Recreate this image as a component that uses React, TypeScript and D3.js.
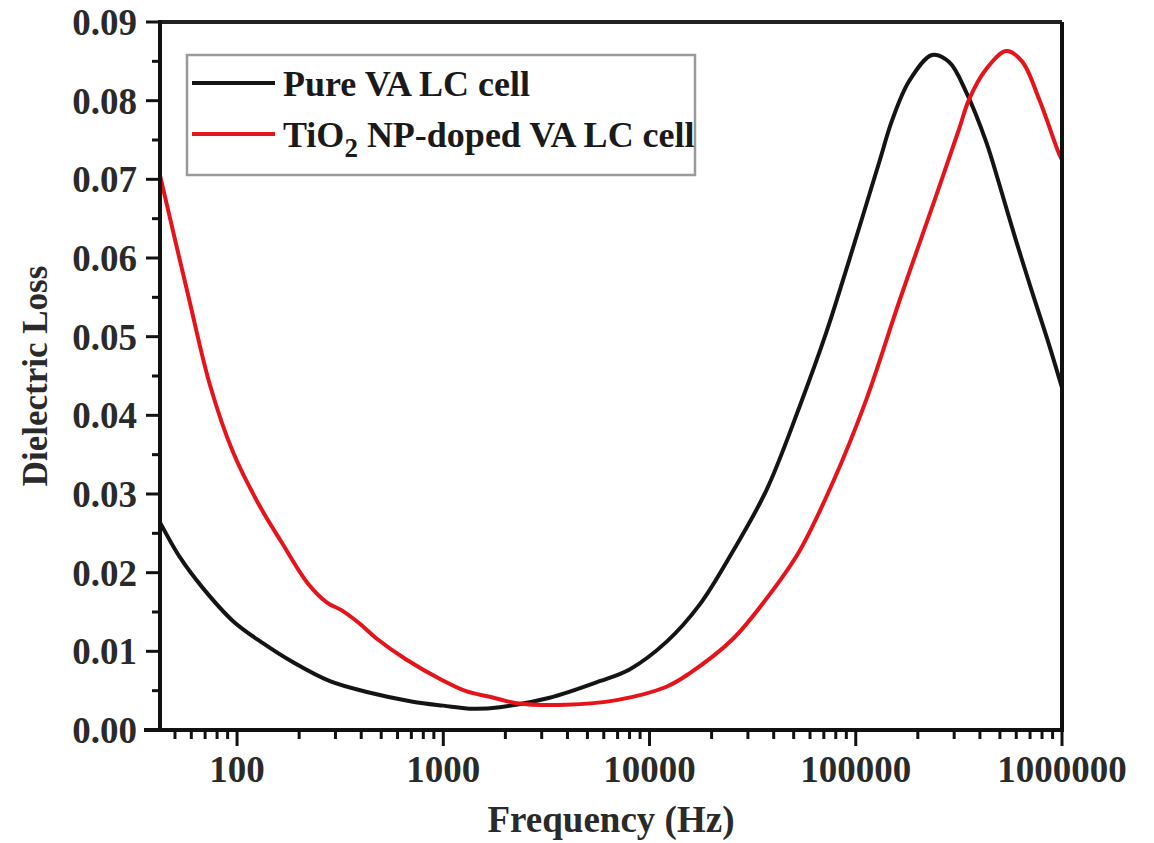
import React from "react";
import * as d3 from "d3";

// Pure VA LC cell
const pureFreq = [42.3, 53, 68, 96, 134, 187, 282, 431, 711, 1000, 1400, 1880, 3280, 5730, 8000, 12080, 17460, 25200, 36900, 53200, 71900, 93100, 130000, 150000, 181600, 234600, 283700, 343000, 428500, 495000, 598500, 716000, 865000, 1000000];
const pureLoss = [0.0264, 0.0219, 0.0181, 0.0138, 0.011, 0.0086, 0.0062, 0.0048, 0.0036, 0.0031, 0.0027, 0.0029, 0.0041, 0.0062, 0.0077, 0.0112, 0.0159, 0.0226, 0.0305, 0.041, 0.0505, 0.0598, 0.0722, 0.0775, 0.0825, 0.0858, 0.0849, 0.0811, 0.0748, 0.0695, 0.0622, 0.0557, 0.049, 0.0435];

// TiO2 NP-doped VA LC cell
const dopedFreq = [42.3, 58, 74, 96, 128, 165, 221, 273, 322, 394, 471, 658, 995, 1300, 1700, 2270, 3960, 6920, 12080, 15630, 25200, 36900, 53200, 76900, 112500, 162600, 240000, 317000, 354800, 428500, 535800, 640000, 774000, 966000, 1000000];
const dopedLoss = [0.0705, 0.0552, 0.0438, 0.0352, 0.0286, 0.0238, 0.0186, 0.0162, 0.0152, 0.0135, 0.0117, 0.009, 0.0063, 0.0049, 0.0042, 0.0034, 0.0032, 0.0038, 0.0055, 0.0072, 0.0115, 0.0167, 0.0227, 0.0313, 0.042, 0.0545, 0.0672, 0.0764, 0.0802, 0.084, 0.0863, 0.085, 0.0802, 0.0733, 0.0725];

const xTickValues = [100, 1000, 10000, 100000, 1000000];
const yTickValues = [0, 0.01, 0.02, 0.03, 0.04, 0.05, 0.06, 0.07, 0.08, 0.09];
const yMinorValues = [0.005, 0.015, 0.025, 0.035, 0.045, 0.055, 0.065, 0.075, 0.085];

const W = 1154;
const H = 843;
const L = 160, R = 1062, T = 22, B = 730;
const FONT = "'Liberation Serif', 'Times New Roman', serif";

export default function App() {
  const x = d3.scaleLog().domain([42.3, 1000000]).range([L, R]);
  const y = d3.scaleLinear().domain([0, 0.09]).range([B, T]);

  const line = d3
    .line<[number, number]>()
    .x((d) => x(d[0]))
    .y((d) => y(d[1]))
    .curve(d3.curveCatmullRom.alpha(0.5));

  const pure = pureFreq.map((f, i) => [f, pureLoss[i]] as [number, number]);
  const doped = dopedFreq.map((f, i) => [f, dopedLoss[i]] as [number, number]);

  const xMinor: number[] = [];
  for (let p = 10; p < 1000000; p *= 10) {
    for (let k = 2; k <= 9; k++) {
      const v = p * k;
      if (v > 42.3 && v < 1000000) xMinor.push(v);
    }
  }

  return (
    <div style={{ position: "absolute", left: 0, top: 0 }}>
      <svg width={W} height={H} style={{ display: "block", background: "#fff" }}>
        <rect x={0} y={0} width={W} height={H} fill="#fff" />
        {/* curves */}
        <path d={line(pure) || ""} fill="none" stroke="#141414" strokeWidth={4} />
        <path d={line(doped) || ""} fill="none" stroke="#e5141b" strokeWidth={4} />

        {/* frame */}
        <line x1={L} x2={R} y1={T} y2={T} stroke="#222" strokeWidth={4} />
        <line x1={R} x2={R} y1={T} y2={B} stroke="#111" strokeWidth={4} />
        <line x1={L} x2={L} y1={T - 2} y2={B + 2} stroke="#111" strokeWidth={4} />
        <line x1={L - 16} x2={R + 2} y1={B} y2={B} stroke="#111" strokeWidth={4} />

        {/* y ticks */}
        {yTickValues.map((v) => (
          <g key={"yt" + v}>
            <line x1={L - 14} x2={L} y1={y(v)} y2={y(v)} stroke="#111" strokeWidth={3} />
            <text
              x={L - 23}
              y={y(v)}
              dy="0.35em"
              textAnchor="end"
              fontFamily={FONT}
              fontWeight="bold"
              fontSize={37}
              fill="#2a2a2a"
            >
              {d3.format(".2f")(v)}
            </text>
          </g>
        ))}
        {yMinorValues.map((v) => (
          <line key={"ym" + v} x1={L - 8} x2={L} y1={y(v)} y2={y(v)} stroke="#111" strokeWidth={3} />
        ))}

        {/* x ticks */}
        {xTickValues.map((v) => (
          <g key={"xt" + v}>
            <line x1={x(v)} x2={x(v)} y1={B} y2={B + 16} stroke="#111" strokeWidth={3} />
            <text
              x={x(v)}
              y={B + 52}
              textAnchor="middle"
              fontFamily={FONT}
              fontWeight="bold"
              fontSize={37}
              fill="#2a2a2a"
            >
              {String(v)}
            </text>
          </g>
        ))}
        {xMinor.map((v) => (
          <line key={"xm" + v} x1={x(v)} x2={x(v)} y1={B} y2={B + 9} stroke="#111" strokeWidth={3} />
        ))}

        {/* axis titles */}
        <text
          x={(L + R) / 2}
          y={832}
          textAnchor="middle"
          fontFamily={FONT}
          fontWeight="bold"
          fontSize={37}
          fill="#2a2a2a"
        >
          Frequency (Hz)
        </text>
        <text
          transform={`translate(47, ${(T + B) / 2}) rotate(-90)`}
          textAnchor="middle"
          fontFamily={FONT}
          fontWeight="bold"
          fontSize={35}
          fill="#2a2a2a"
        >
          Dielectric Loss
        </text>

        {/* legend */}
        <rect x={187} y={55} width={508} height={120} fill="#fff" stroke="#9a9a9a" strokeWidth={2.5} />
        <line x1={192} x2={275} y1={83} y2={83} stroke="#141414" strokeWidth={4} />
        <line x1={192} x2={275} y1={134} y2={134} stroke="#e5141b" strokeWidth={4} />
        <text x={283} y={96} fontFamily={FONT} fontWeight="bold" fontSize={36} fill="#1a1a1a">
          Pure VA LC cell
        </text>
        <text x={283} y={147} fontFamily={FONT} fontWeight="bold" fontSize={36} fill="#1a1a1a">
          TiO
          <tspan fontSize={27} dy={10}>2</tspan>
          <tspan dy={-10}> NP-doped VA LC cell</tspan>
        </text>
      </svg>
    </div>
  );
}
